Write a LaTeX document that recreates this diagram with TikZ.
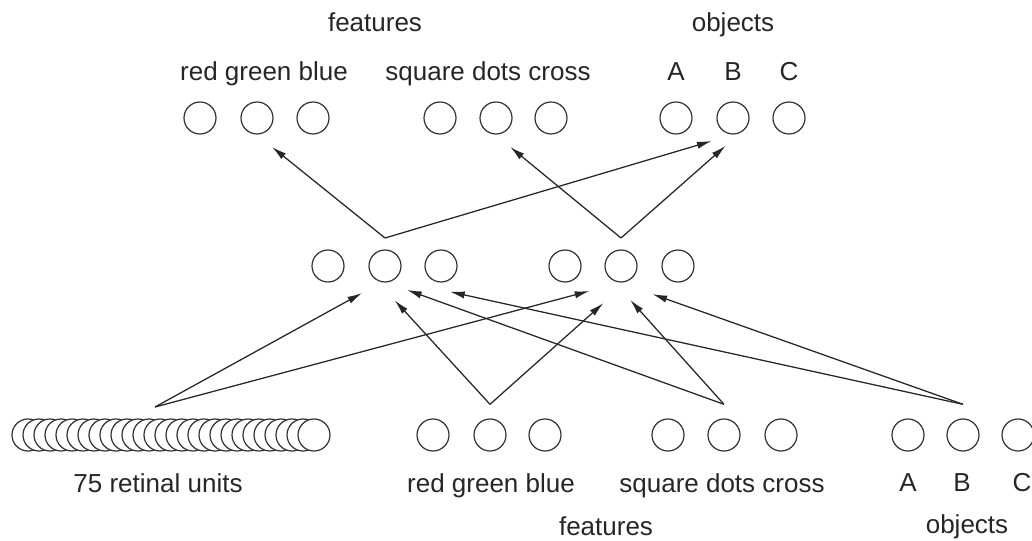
\documentclass[tikz,border=0pt]{standalone}
\usepackage{fontspec}
\setmainfont{Liberation Sans}
\usetikzlibrary{arrows.meta}

\tikzset{every picture/.style={line width=0.75pt}}
\tikzset{
  unit/.style={circle,draw=black!80,fill=white,line width=0.9pt,minimum size=24pt,inner sep=0pt,outer sep=0pt},
  lbl/.style={anchor=base,inner sep=0pt,text=black!85,font=\fontsize{19.5}{22}\selectfont},
  link/.style={draw=black!85,line width=0.95pt,-{Latex[length=11pt,width=5.5pt]}},
}

\begin{document}
\begin{tikzpicture}[x=0.75pt,y=0.75pt,yscale=-1,xscale=1]
\useasboundingbox (0,0) rectangle (1032,541);

% output layer
\foreach \n/\x in {f1/200,f2/257,f3/313,s1/440,s2/496,s3/551,o1/676,o2/733,o3/789}
  \node[unit] (\n) at (\x,118) {};
% hidden layer
\foreach \n/\x in {h1/328,h2/385,h3/441,h4/565,h5/621,h6/678}
  \node[unit] (\n) at (\x,266) {};
% input layer: retina (each unit covers the one before)
\foreach \i in {1,...,27}
  \node[unit] (r\i) at ({17+11*\i},435) {};
\foreach \n/\x in {bf1/433,bf2/490,bf3/545,bs1/668,bs2/724,bs3/781,bo1/908,bo2/963,bo3/1018}
  \node[unit] (\n) at (\x,435) {};

% labels, top
\node[lbl] (tfeat) at (375,32) {features};
\node[lbl] (tobj) at (733,32) {objects};
\node[lbl] (tcol) at (264,81) {red green blue};
\node[lbl] (tshp) at (488,81) {square dots cross};
\node[lbl] (ta) at (676,81) {A};
\node[lbl] (tb) at (733,81) {B};
\node[lbl] (tc) at (789,81) {C};
% labels, bottom
\node[lbl] (bret) at (158,493) {75 retinal units};
\node[lbl] (bcol) at (491,493) {red green blue};
\node[lbl] (bshp) at (722,493) {square dots cross};
\node[lbl] (ba) at (908,492) {A};
\node[lbl] (bb) at (962,492) {B};
\node[lbl] (bc) at (1022,492) {C};
\node[lbl] (bfeat) at (606,535) {features};
\node[lbl] (bobj) at (967,533) {objects};

% fan-out points (y axis points down here)
\coordinate (h2t) at ([yshift=-9pt]h2.north);
\coordinate (h5t) at ([yshift=-9pt]h5.north);
\coordinate (rt) at (155,407);
\coordinate (bft) at ([yshift=-11pt]bf2.north);
\coordinate (bst) at ([yshift=-11pt]bs2.north);
\coordinate (bot) at ([yshift=-11pt]bo2.north);

% hidden -> output
\draw[link,shorten >=15.6pt] (h2t) -- (f2.-94.3);
\draw[link,shorten >=20.4pt] (h2t) -- (o2.-73.7);
\draw[link,shorten >=15.5pt] (h5t) -- (s2.-96.8);
\draw[link,shorten >=17.7pt] (h5t) -- (o2.-50.5);
% input -> hidden
\draw[link,shorten >=17.5pt] (rt) -- (h2.-99.3);
\draw[link,shorten >=27.8pt] (rt) -- (h5.-75.8);
\draw[link,shorten >=23.9pt] (bft) -- (h2.-137.2);
\draw[link,shorten >=28pt] (bft) -- (h5.-50);
\draw[link,shorten >=17.6pt] (bst) -- (h2.-90.4);
\draw[link,shorten >=21.9pt] (bst) -- (h5.-130.7);
\draw[link,shorten >=43.3pt] (bot) -- (h2.-57.7);
\draw[link,shorten >=29.2pt] (bot) -- (h5.-109.6);
\end{tikzpicture}
\end{document}
